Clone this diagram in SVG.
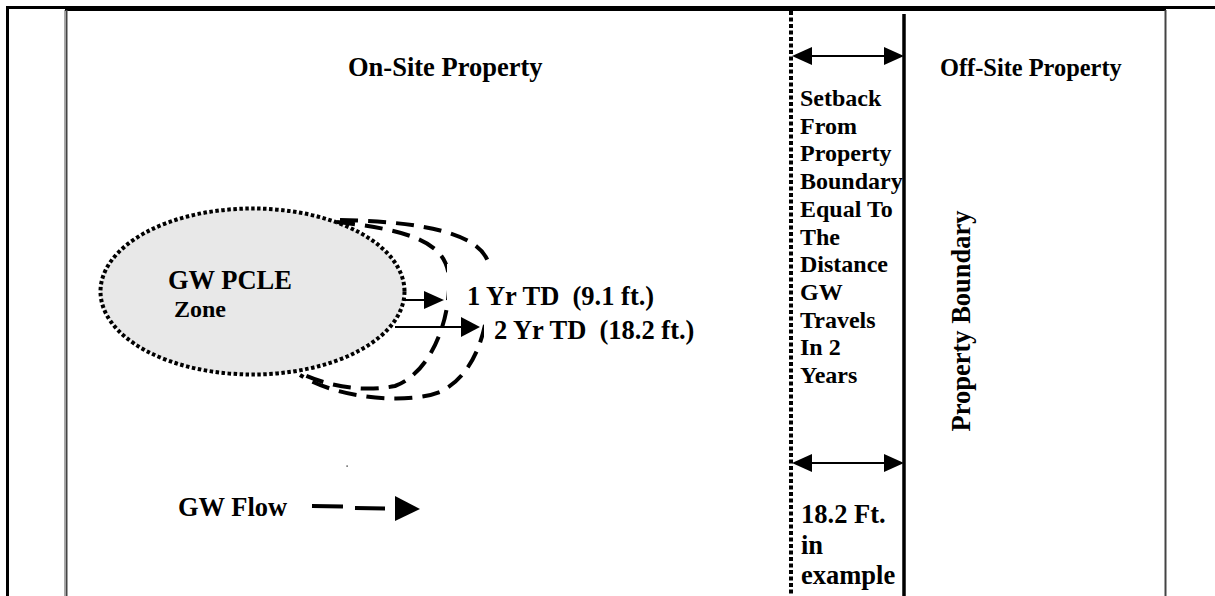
<svg xmlns="http://www.w3.org/2000/svg" width="1215" height="596" viewBox="0 0 1215 596">
<style>
text{font-family:"Liberation Serif","Times New Roman",serif;font-weight:bold;fill:#000}
.t26{font-size:26.5px}
.t24{font-size:24.4px}
.t23{font-size:24px}
.frame{stroke:#000;fill:none}
.dot{stroke:#000;stroke-width:4;stroke-dasharray:4 2.5}
.dash{fill:none;stroke:#000;stroke-width:4;stroke-dasharray:18 10}
.head{fill:#000}
.ln{stroke:#000;stroke-width:2}
</style>
<rect x="0" y="0" width="1215" height="596" fill="#fff"/>
<g id="frame">
<line class="frame" x1="6" y1="7.5" x2="1215" y2="7.5" stroke-width="3"/>
<line class="frame" x1="7.5" y1="6" x2="7.5" y2="596" stroke-width="3"/>
<line x1="65" y1="10" x2="1166" y2="10" stroke="#000" stroke-width="2"/>
<line x1="64.5" y1="10" x2="64.5" y2="596" stroke="#aaa" stroke-width="1"/>
<line x1="66.5" y1="10" x2="66.5" y2="596" stroke="#444" stroke-width="2"/>
<line x1="1165.5" y1="10" x2="1165.5" y2="596" stroke="#444" stroke-width="2"/>
</g>
<g id="setback-line"><line class="dot" x1="791" y1="11" x2="791" y2="596"/></g>
<g id="property-boundary-line"><line x1="904" y1="14" x2="904" y2="596" stroke="#000" stroke-width="3.5"/></g>
<g id="on-site-label"><text class="t26" x="348" y="76">On-Site Property</text></g>
<g id="off-site-label"><text class="t24" x="940" y="76">Off-Site Property</text></g>
<g id="property-boundary-label"><text class="t26" text-anchor="middle" transform="translate(970,321) rotate(-90)">Property Boundary</text></g>
<g id="gw-pcle-zone">
<ellipse cx="252.5" cy="291.5" rx="152" ry="83" fill="#e8e8e8" stroke="#000" stroke-width="4" stroke-dasharray="3.5 2.5"/>
<text class="t26" x="168" y="289">GW PCLE</text>
<text class="t23" x="174" y="317">Zone</text>
</g>
<g id="connectors">
<path id="td1-curve" class="dash" d="M337,222 C430,232 452,250 449,290 C446,335 425,375 395,386 C360,393 325,385 300,373"/>
<path id="td2-curve" class="dash" d="M340,220 C440,222 492,238 490,275 C490,330 475,375 440,392 C410,404 340,400 300,375"/>
<rect x="447" y="264" width="215" height="37" fill="#fff"/>
<rect x="484" y="300" width="220" height="39" fill="#fff"/>
<line class="ln" x1="403" y1="300" x2="426" y2="300"/>
<polygon class="head" points="424,291 444,300 424,309"/>
<line class="ln" x1="395" y1="327" x2="463" y2="327"/>
<polygon class="head" points="461,317 480,327 461,337"/>
<line class="ln" x1="812" y1="56" x2="884" y2="56"/>
<polygon class="head" points="792,56 812,47 812,65"/>
<polygon class="head" points="904,56 884,47 884,65"/>
<line class="ln" x1="812" y1="463" x2="884" y2="463"/>
<polygon class="head" points="792,463 812,454 812,472"/>
<polygon class="head" points="904,463 884,454 884,472"/>
<line x1="312" y1="506" x2="343" y2="506.5" stroke="#000" stroke-width="4"/>
<line x1="355" y1="508" x2="385" y2="508.5" stroke="#000" stroke-width="4"/>
<polygon class="head" points="395,496 420,509 395,521"/>
</g>
<g id="td-labels">
<text class="t26" x="467" y="305" xml:space="preserve">1 Yr TD  (9.1 ft.)</text>
<text class="t26" x="494" y="339" xml:space="preserve">2 Yr TD  (18.2 ft.)</text>
</g>
<g id="gw-flow-label"><text class="t26" x="178" y="516">GW Flow</text></g>
<g id="setback-text">
<text class="t23" x="800" y="106">Setback</text>
<text class="t23" x="800" y="133.7">From</text>
<text class="t23" x="800" y="161.4">Property</text>
<text class="t23" x="800" y="189.1">Boundary</text>
<text class="t23" x="800" y="216.8">Equal To</text>
<text class="t23" x="800" y="244.5">The</text>
<text class="t23" x="800" y="272.2">Distance</text>
<text class="t23" x="800" y="299.9">GW</text>
<text class="t23" x="800" y="327.6">Travels</text>
<text class="t23" x="800" y="355.3">In 2</text>
<text class="t23" x="800" y="383">Years</text>
</g>
<g id="example-text">
<text class="t26" x="801" y="523">18.2 Ft.</text>
<text class="t26" x="801" y="554">in</text>
<text class="t26" x="801" y="584">example</text>
</g>
<rect x="346.5" y="465.5" width="1.2" height="1.2" fill="#000"/>
</svg>
